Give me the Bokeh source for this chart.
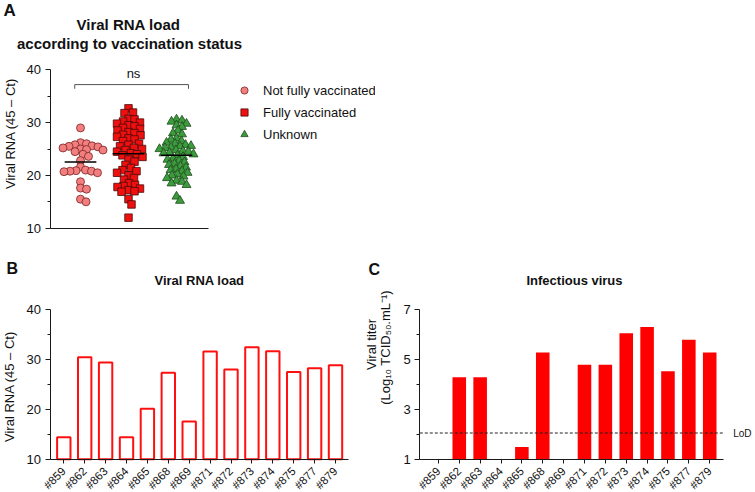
import numpy as np
from bokeh.plotting import figure
from bokeh.layouts import column, row
from bokeh.models import Range1d, FixedTicker, Label, Legend, LegendItem, ColumnDataSource
from bokeh.embed import file_html
from bokeh.resources import INLINE

# ---------------- data ----------------
group_names = ["Not fully vaccinated", "Fully vaccinated", "Unknown"]

not_fully = [29.0, 26.2, 26.0, 25.8, 25.6, 25.5, 25.4, 25.2, 25.0, 24.9, 24.8,
             24.5, 24.0, 23.6, 22.8, 21.6, 21.0, 20.9, 20.8, 20.8, 20.7, 20.5,
             18.8, 17.6, 17.4, 15.5, 15.0]
fully = [32.7, 31.9, 31.8, 30.7, 30.6, 30.2, 30.0, 29.8, 29.5, 29.3, 29.0, 28.8,
         28.5, 28.2, 28.0, 27.7, 27.6, 27.3, 27.0, 26.8, 26.5, 26.0, 25.8, 25.5,
         25.2, 25.0, 24.8, 24.5, 24.2, 24.0, 23.8, 23.5, 23.0, 22.6, 22.0, 21.4,
         21.0, 20.8, 20.5, 20.0, 19.5, 19.2, 18.5, 18.2, 18.0, 17.8, 17.5, 17.2,
         17.0, 16.9, 15.5, 14.5, 12.0]
unknown = [30.6, 30.4, 30.2, 29.8, 29.5, 29.2, 28.5, 28.0, 27.8, 27.0, 26.8, 26.5,
           26.2, 26.0, 25.8, 25.6, 25.5, 25.3, 25.2, 25.0, 24.8, 24.6, 24.5, 24.3,
           24.2, 24.0, 23.8, 23.5, 23.2, 23.0, 22.8, 22.5, 22.2, 22.0, 21.8, 21.5,
           21.2, 21.0, 20.8, 20.5, 20.2, 20.0, 19.8, 19.5, 19.0, 18.8, 18.5, 18.2,
           16.0, 15.2]

samples = ["#859", "#862", "#863", "#864", "#865", "#868", "#869",
           "#871", "#872", "#873", "#874", "#875", "#877", "#879"]
rna_load = [14.4, 30.45, 29.4, 14.4, 20.1, 27.3, 17.55,
            31.6, 28.0, 32.45, 31.65, 27.5, 28.25, 28.85]
titer = [None, 4.28, 4.28, None, 1.49, 5.28, None,
         4.79, 4.79, 6.05, 6.30, 4.53, 5.79, 5.28]
lod = 2.05

# ---------------- style ----------------
FONT = "Liberation Sans"
AX = "#1a1a1a"
TXT = "#111111"


def make_fig(w, h, xr, yr):
    p = figure(width=w, height=h, output_backend="svg", toolbar_location=None,
               x_range=Range1d(*xr), y_range=Range1d(*yr), min_border=0)
    p.xgrid.visible = False
    p.ygrid.visible = False
    p.outline_line_color = None
    p.background_fill_color = "white"
    p.border_fill_color = "white"
    for ax in p.axis:
        ax.axis_line_color = AX
        ax.axis_line_width = 1
        ax.major_tick_line_color = AX
        ax.minor_tick_line_color = AX
        ax.major_tick_in = 0
        ax.major_tick_out = 5
        ax.minor_tick_in = 0
        ax.minor_tick_out = 3
        ax.major_label_text_font = FONT
        ax.major_label_text_color = TXT
        ax.major_label_text_font_size = "13px"
        ax.major_label_standoff = 4
    return p


def txt(p, H, text, x, y, size="13px", bold=False, align="center",
        baseline="middle", angle=0.0):
    # x, y in pixels from the top-left of this figure
    p.add_layout(Label(x=x, y=H - y, x_units="screen", y_units="screen", text=text,
                       angle=angle, text_font=FONT, text_font_size=size,
                       text_font_style="bold" if bold else "normal",
                       text_align=align, text_baseline=baseline, text_color=TXT))


def swarm(vals, py_unit, px_unit, d):
    vals = np.asarray(vals, float)
    order = np.argsort(-vals)
    steps = np.arange(0.5, 60, 0.5)
    cand = np.concatenate([[0.0], np.ravel(np.column_stack([steps, -steps]))])
    placed = []
    off = np.zeros(len(vals))
    for i in order:
        y = vals[i] * py_unit
        for c in cand:
            if all((c - px) ** 2 + (y - py) ** 2 >= d * d for py, px in placed):
                break
        placed.append((y, c))
        off[i] = c / px_unit
    return off


# ---------------- panel A ----------------
AW, AH = 375, 240
pyA = (227.7 - 69.3) / 30.0          # px per unit, y
pxA = 48.0                           # px per group, x
ax0 = -80.0 / pxA
ay0 = 10 - (AH - 227.7) / pyA
pa = make_fig(AW, AH, (ax0, ax0 + AW / pxA), (ay0, ay0 + AH / pyA))
ya_loc = ax0 + 49.5 / pxA
pa.yaxis.fixed_location = ya_loc
pa.yaxis.bounds = (10, 40)
pa.yaxis.ticker = FixedTicker(ticks=[10, 20, 30, 40], minor_ticks=[15, 25, 35])
pa.xaxis.fixed_location = 10
pa.xaxis.bounds = (ya_loc, ax0 + 208.0 / pxA)
pa.xaxis.ticker = FixedTicker(ticks=[])
pa.xaxis.major_label_text_font_size = "0px"

styles = [
    dict(marker="circle", size=8, fill_color="#F27F7F", line_color="#7A2323"),
    dict(marker="square", size=7.5, fill_color="#EE0F0F", line_color="#4A0A0A"),
    dict(marker="triangle", size=9, fill_color="#3C9B3C", line_color="#1E4A1E"),
]
gaps = [5.8, 6.0, 5.4]
renderers = []
for gi, (vals, st, gap) in enumerate(zip([not_fully, fully, unknown], styles, gaps)):
    off = swarm(vals, pyA, pxA, gap)
    src = ColumnDataSource(dict(x=gi + off, y=vals))
    r = pa.scatter("x", "y", source=src, line_width=0.8, **st)
    renderers.append(r)
    m = float(np.mean(vals))
    pa.segment(x0=[gi - 0.33], y0=[m], x1=[gi + 0.33], y1=[m], line_color="black",
               line_width=1.6)

# significance bracket
bx0, bx1, by = -0.12, 2.25, 37.2
pa.multi_line(xs=[[bx0, bx0, bx1, bx1]], ys=[[by - 0.8, by, by, by - 0.8]],
              line_color="#555555", line_width=1)
txt(pa, AH, "ns", 133, 73)

legend = Legend(items=[LegendItem(label=n, renderers=[r]) for n, r in zip(group_names, renderers)],
                location=(235, AH - 144), glyph_width=18, glyph_height=18, label_height=20,
                spacing=2, padding=0, margin=0, label_standoff=10,
                border_line_color=None, background_fill_alpha=0,
                label_text_font=FONT, label_text_font_size="13px", label_text_color=TXT)
pa.add_layout(legend)

txt(pa, AH, "A", 3, 10, size="17px", bold=True, align="left")
txt(pa, AH, "Viral RNA load", 128, 24, size="15px", bold=True)
txt(pa, AH, "according to vaccination status", 129, 43, size="15px", bold=True)
txt(pa, AH, "Viral RNA (45 \u2013 Ct)", 10, 133, angle=np.pi / 2)

# ---------------- panel B ----------------
RH = 252
TOP = 240
xs = np.arange(len(samples))
BW = 364
pyB = (458.7 - 309.0) / 30.0
pxB = 20.9
bx_0 = -63.3 / pxB
by_0 = 10 - (TOP + RH - 458.7) / pyB
pb = make_fig(BW, RH, (bx_0, bx_0 + BW / pxB), (by_0, by_0 + RH / pyB))
yb_loc = bx_0 + 49.5 / pxB
pb.vbar(x=xs, top=rna_load, bottom=10, width=0.64, fill_color="white",
        line_color="#FF1010", line_width=2)
pb.yaxis.fixed_location = yb_loc
pb.yaxis.bounds = (10, 40)
pb.yaxis.ticker = FixedTicker(ticks=[10, 20, 30, 40], minor_ticks=[15, 25, 35])
pb.xaxis.fixed_location = 10
pb.xaxis.bounds = (yb_loc, bx_0 + 348.3 / pxB)
pb.xaxis.ticker = FixedTicker(ticks=list(xs))
pb.xaxis.major_label_overrides = {int(i): s for i, s in zip(xs, samples)}
pb.xaxis.major_label_orientation = np.pi / 4
pb.xaxis.major_label_text_font_size = "11.5px"
pb.xaxis.major_tick_out = 4
pb.xaxis.major_label_standoff = 6
txt(pb, RH, "B", 6, 28, size="16px", bold=True, align="left")
txt(pb, RH, "Viral RNA load", 199, 40, size="13px", bold=True)
txt(pb, RH, "Viral RNA (45 \u2013 Ct)", 9, 146, angle=np.pi / 2)

# ---------------- panel C ----------------
CX = 364
CW = 389
pyC = (458.7 - 309.0) / 6.0
pxC = 20.87
cx_0 = -(437.9 - CX) / pxC
cy_0 = 1 - (TOP + RH - 458.7) / pyC
tv = [np.nan if t is None else t for t in titer]
pc = make_fig(CW, RH, (cx_0, cx_0 + CW / pxC), (cy_0, cy_0 + RH / pyC))
yc_loc = cx_0 + (419.3 - CX) / pxC
xc_end = cx_0 + (723.3 - CX) / pxC
pc.vbar(x=xs, top=tv, bottom=1, width=0.65, fill_color="#FF0000", line_color=None)
pc.segment(x0=[yc_loc], y0=[lod], x1=[xc_end], y1=[lod], line_color="#222222",
           line_width=1, line_dash="3 2")
pc.yaxis.fixed_location = yc_loc
pc.yaxis.bounds = (1, 7)
pc.yaxis.ticker = FixedTicker(ticks=[1, 3, 5, 7], minor_ticks=[2, 4, 6])
pc.xaxis.fixed_location = 1
pc.xaxis.bounds = (yc_loc, xc_end)
pc.xaxis.ticker = FixedTicker(ticks=list(xs))
pc.xaxis.major_label_overrides = {int(i): s for i, s in zip(xs, samples)}
pc.xaxis.major_label_orientation = np.pi / 4
pc.xaxis.major_label_text_font_size = "11.5px"
pc.xaxis.major_tick_out = 4
pc.xaxis.major_label_standoff = 6
pc.text(x=[xc_end + 0.45], y=[lod], text=["LoD"], text_font_size="10px",
        text_align="left", text_baseline="middle", text_color=TXT)
txt(pc, RH, "C", 4, 29, size="16px", bold=True, align="left")
txt(pc, RH, "Infectious virus", 210, 40, size="13px", bold=True)
txt(pc, RH, "Viral titer", 7, 104, angle=np.pi / 2)
txt(pc, RH, "(Log\u2081\u2080 TCID\u2085\u2080.mL\u207b\u00b9)", 21, 107, angle=np.pi / 2)

layout = column(pa, row(pb, pc))
open("out.html", "w").write(file_html(layout, INLINE))
